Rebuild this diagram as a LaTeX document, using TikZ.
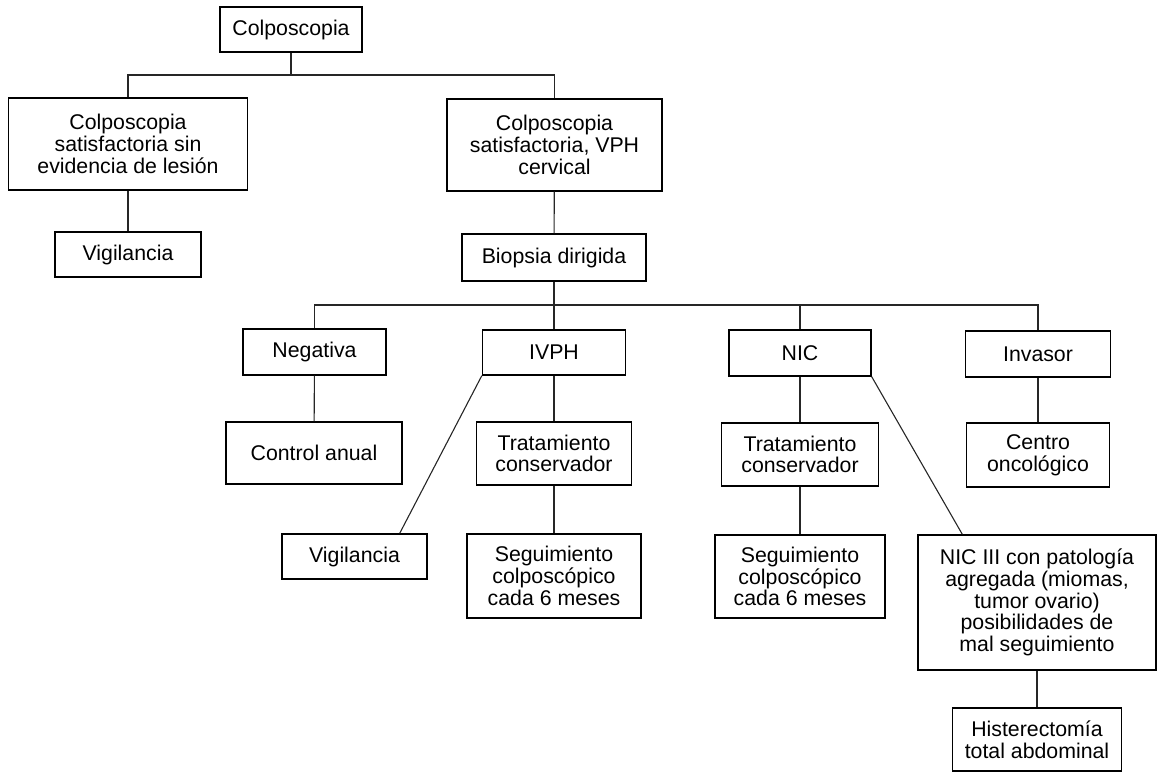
\documentclass[tikz,border=0pt]{standalone}
\usepackage{fontspec}
\setmainfont{Liberation Sans}

\begin{document}
\begin{tikzpicture}[x=1pt,y=-1pt,
        caja/.style={draw,line width=1.4pt,align=center,inner sep=0pt,font=\fontsize{21.3}{21.7}\selectfont},
        linea/.style={line width=1.1pt,draw=black!85}]
    \useasboundingbox (0,0) rectangle (1162,774);

    \node[caja,minimum width=142pt,minimum height=45pt] (colpo) at (291,29.5) {Colposcopia};
    \node[caja,minimum width=239pt,minimum height=92pt] (sinles) at (128,144) {Colposcopia\\satisfactoria sin\\evidencia de lesión};
    \node[caja,minimum width=146pt,minimum height=45pt] (vig1) at (128,254.5) {Vigilancia};
    \node[caja,minimum width=215pt,minimum height=92pt] (vph) at (554.5,145) {Colposcopia\\satisfactoria, VPH\\cervical};
    \node[caja,minimum width=184pt,minimum height=47pt] (biopsia) at (554,257.5) {Biopsia dirigida};

    \node[caja,minimum width=143pt,minimum height=46pt] (neg) at (314.5,352) {Negativa};
    \node[caja,minimum width=176pt,minimum height=62pt] (control) at (314,453) {Control anual};
    \node[caja,minimum width=143pt,minimum height=45pt] (ivph) at (554,352.5) {IVPH};
    \node[caja,minimum width=155pt,minimum height=63pt] (trat1) at (554,453.5) {Tratamiento\\conservador};
    \node[caja,minimum width=145pt,minimum height=45pt] (vig2) at (354.5,556.5) {Vigilancia};
    \node[caja,minimum width=174pt,minimum height=84pt] (seg1) at (554,576) {Seguimiento\\colposcópico\\cada 6 meses};
    \node[caja,minimum width=142pt,minimum height=46pt] (nic) at (800,353) {NIC};
    \node[caja,minimum width=157pt,minimum height=63pt] (trat2) at (800,454.5) {Tratamiento\\conservador};
    \node[caja,minimum width=170pt,minimum height=83pt] (seg2) at (800,576.5) {Seguimiento\\colposcópico\\cada 6 meses};
    \node[caja,minimum width=145pt,minimum height=46pt] (inv) at (1038,354) {Invasor};
    \node[caja,minimum width=143pt,minimum height=64pt] (centro) at (1038,455) {Centro\\oncológico};
    \node[caja,minimum width=238pt,minimum height=135pt] (nic3) at (1037,602.5) {NIC III con patología\\agregada (miomas,\\tumor ovario)\\posibilidades de\\mal seguimiento};
    \node[caja,minimum width=169pt,minimum height=63pt] (hist) at (1037,739.5) {Histerectomía\\total abdominal};

    \coordinate (r1) at (291,75);
    \coordinate (r2) at (554,305);

    \draw[linea] (colpo) -- (r1);
    \draw[linea] (sinles.north) |- (r1) -| (vph.north);
    \draw[linea] (sinles) -- (vig1);
    \draw[linea] (vph) -- (biopsia);
    \draw[linea] (biopsia) -- (ivph);
    \draw[linea] (neg.north) |- (r2) -| (inv.north);
    \draw[linea] (nic.north) -- (nic.north |- r2);
    \draw[linea] (neg) -- (control);
    \draw[linea] (ivph) -- (trat1);
    \draw[linea] (trat1) -- (seg1);
    \draw[linea] (ivph.south west) -- ([xshift=-28pt]vig2.north east);
    \draw[linea] (nic) -- (trat2);
    \draw[linea] (trat2) -- (seg2);
    \draw[linea] (nic.south east) -- ([xshift=45pt]nic3.north west);
    \draw[linea] (inv) -- (centro);
    \draw[linea] (nic3) -- (hist);
\end{tikzpicture}
\end{document}
